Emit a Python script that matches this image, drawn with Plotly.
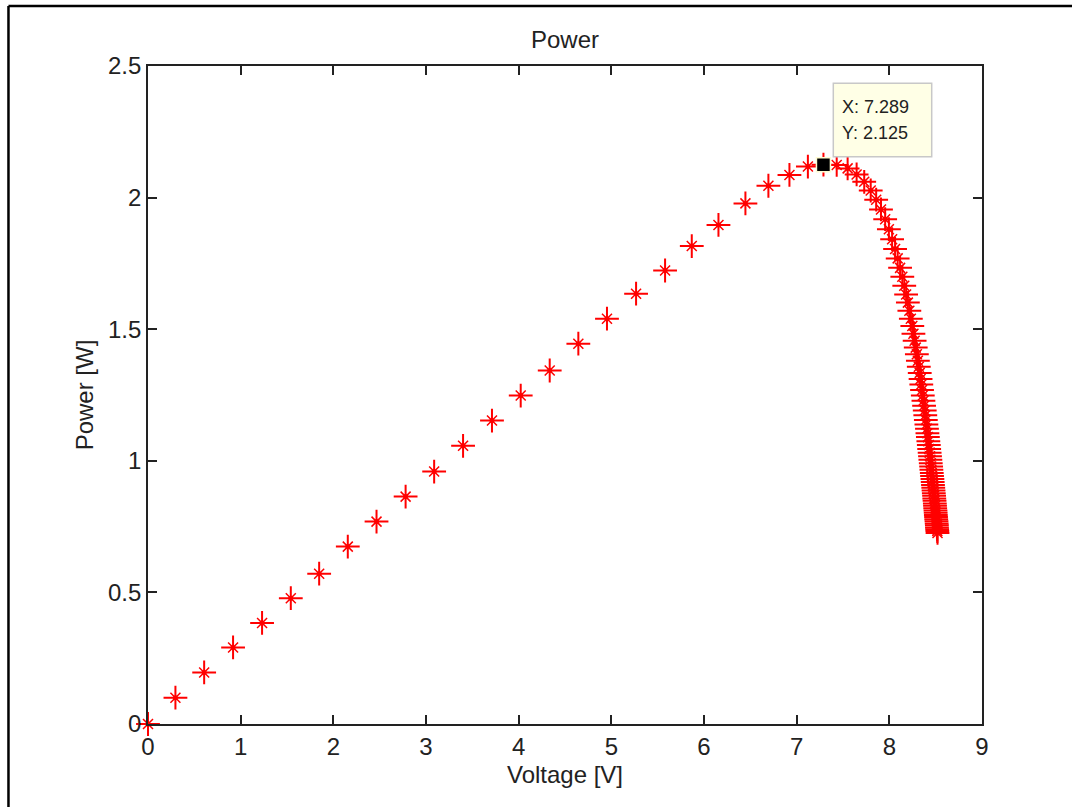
import plotly.graph_objects as go

# Voltage [V] and Power [W]
voltage = [0, 0.296, 0.606, 0.918, 1.231, 1.541, 1.847, 2.156, 2.466, 2.780, 3.088, 3.400, 3.712,
           4.022, 4.335, 4.644, 4.953, 5.267, 5.580, 5.868, 6.156, 6.447, 6.695, 6.922, 7.121, 7.289,
           7.432, 7.550, 7.647, 7.729, 7.799, 7.858, 7.910, 7.955, 7.995, 8.030, 8.062, 8.090, 8.116,
           8.140, 8.161, 8.181, 8.200, 8.216, 8.232, 8.248, 8.260, 8.273, 8.285, 8.297, 8.308, 8.318,
           8.328, 8.337, 8.345, 8.353, 8.361, 8.368, 8.375, 8.382, 8.388, 8.394, 8.400, 8.406, 8.411,
           8.416, 8.421, 8.426, 8.430, 8.435, 8.439, 8.443, 8.447, 8.451, 8.454, 8.458, 8.461, 8.465,
           8.468, 8.471, 8.474, 8.477, 8.480, 8.483, 8.485, 8.488, 8.491, 8.493, 8.495, 8.498, 8.500,
           8.502, 8.504, 8.506, 8.509, 8.511, 8.513, 8.514, 8.516, 8.518, 8.520]
power = [0, 0.100, 0.196, 0.291, 0.384, 0.478, 0.571, 0.674, 0.769, 0.864, 0.959, 1.057, 1.153,
         1.248, 1.343, 1.445, 1.540, 1.635, 1.723, 1.816, 1.896, 1.978, 2.045, 2.086, 2.118, 2.125,
         2.124, 2.111, 2.088, 2.060, 2.027, 1.992, 1.955, 1.918, 1.880, 1.842, 1.805, 1.769, 1.733,
         1.699, 1.665, 1.632, 1.601, 1.570, 1.540, 1.512, 1.483, 1.456, 1.430, 1.405, 1.380, 1.357,
         1.334, 1.311, 1.290, 1.269, 1.248, 1.228, 1.209, 1.191, 1.173, 1.155, 1.138, 1.122, 1.105,
         1.090, 1.074, 1.060, 1.045, 1.031, 1.017, 1.004, 0.991, 0.978, 0.966, 0.954, 0.942, 0.931,
         0.919, 0.908, 0.898, 0.887, 0.877, 0.867, 0.857, 0.848, 0.838, 0.829, 0.820, 0.811, 0.803,
         0.794, 0.786, 0.778, 0.770, 0.762, 0.755, 0.747, 0.740, 0.733, 0.726]

tip_x = [7.289]
tip_y = [2.125]
tip_lines = ["X: 7.289", "Y: 2.125"]
x_ticks = [0, 1, 2, 3, 4, 5, 6, 7, 8, 9]
y_ticks = [0, 0.5, 1, 1.5, 2, 2.5]

FONT = "Liberation Sans, Arial, sans-serif"
INK = "#222222"

fig = go.Figure()
fig.add_trace(go.Scatter(
    x=voltage, y=power, mode="markers", cliponaxis=False, hoverinfo="skip",
    marker=dict(symbol="cross-thin-open", size=17, color="red",
                line=dict(color="red", width=2))))
fig.add_trace(go.Scatter(
    x=voltage, y=power, mode="markers", cliponaxis=False, hoverinfo="skip",
    marker=dict(symbol="x-thin-open", size=10, color="red",
                line=dict(color="red", width=1.5))))
fig.add_trace(go.Scatter(
    x=voltage, y=power, mode="markers", cliponaxis=False, hoverinfo="skip",
    marker=dict(symbol="circle", size=5, color="red", line=dict(width=0))))
fig.add_trace(go.Scatter(
    x=tip_x, y=tip_y, mode="markers", cliponaxis=False,
    marker=dict(symbol="square", size=14, color="black",
                line=dict(color="#fffbd0", width=1.5))))

axis_common = dict(
    showgrid=False, zeroline=False, showline=True, linecolor=INK, linewidth=1.6,
    mirror="ticks", ticks="inside", ticklen=9, tickwidth=1.6, tickcolor=INK,
    tickfont=dict(family=FONT, size=24, color=INK),
)

tip_font = dict(family=FONT, size=18, color=INK)

fig.update_layout(
    width=1072, height=807, autosize=False,
    margin=dict(l=148, r=90, t=66, b=83, pad=0),
    paper_bgcolor="white", plot_bgcolor="white",
    showlegend=False,
    font=dict(family=FONT, color=INK),
    title=dict(text="Power", x=0.5, xref="paper", xanchor="center",
               y=1 - 40 / 807, yref="container", yanchor="middle",
               font=dict(family=FONT, size=24, color=INK)),
    xaxis=dict(range=[0, 9], tickvals=x_ticks,
               title=dict(text="Voltage [V]", standoff=8,
                          font=dict(family=FONT, size=24, color=INK)),
               **axis_common),
    yaxis=dict(range=[0, 2.5], tickvals=y_ticks,
               title=dict(text="Power [W]", standoff=8,
                          font=dict(family=FONT, size=24, color=INK)),
               **axis_common),
    annotations=[
        dict(x=0.8297, y=0.9381, xref="paper", yref="paper", xanchor="left",
             yanchor="middle", text=tip_lines[0], showarrow=False, font=tip_font),
        dict(x=0.8297, y=0.8977, xref="paper", yref="paper", xanchor="left",
             yanchor="middle", text=tip_lines[1], showarrow=False, font=tip_font),
    ],
    shapes=[
        dict(type="rect", xref="paper", yref="paper", layer="above",
             x0=0.8217, x1=0.9397, y0=0.8622, y1=0.9737,
             fillcolor="#ffffe6", line=dict(color="#c8c8c8", width=1.5)),
        dict(type="line", xref="paper", yref="paper",
             x0=-0.1673, x1=1.2, y0=1.0912, y1=1.0912,
             line=dict(color="black", width=2.5)),
        dict(type="line", xref="paper", yref="paper",
             x0=-0.1673, x1=-0.1673, y0=1.0912, y1=-0.2,
             line=dict(color="black", width=2.5)),
    ],
)

fig.write_html("out.html")
